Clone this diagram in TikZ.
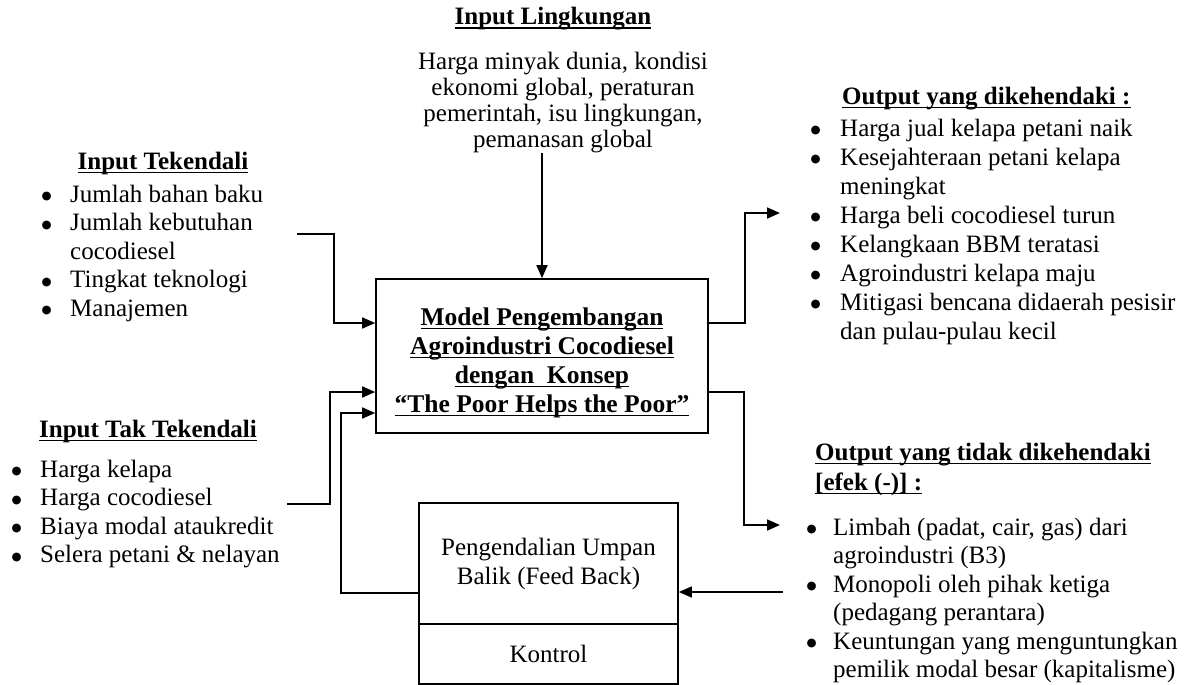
\documentclass[tikz,border=0pt]{standalone}
\usepackage{fontspec}
\setmainfont{Liberation Serif}
\newfontfamily\dejavu{DejaVu Sans}
\usetikzlibrary{arrows.meta}
\newcommand{\uln}[1]{\setbox0\hbox{#1}\rlap{\rule[-4pt]{\wd0}{1.5pt}}\box0}
\newcommand{\bl}[1][29pt]{\makebox[#1][l]{\hspace{0.8pt}\raisebox{2.2pt}{\dejavu\fontsize{11.5}{12}\selectfont ●}}}
\begin{document}
\begin{tikzpicture}[x=1pt,y=-1pt,
  txt/.style={inner sep=0pt, font=\fontsize{25}{28.5}\selectfont},
  hdr/.style={inner sep=0pt, font=\fontsize{25}{30}\selectfont\bfseries},
  blockbox/.style={draw, line width=1.6pt, inner sep=0pt, align=center},
  conn/.style={line width=1.6pt},
  arr/.style={conn, -{Triangle[length=13pt,width=11pt]}}
]
\useasboundingbox (0,0) rectangle (1189,685);

% --- Input Lingkungan
\node[hdr, anchor=base] (lgH) at (553,25) {\uln{Input Lingkungan}};
\node[inner sep=0pt, font=\fontsize{25}{26}\selectfont, anchor=base] (lgT) at (563,70)
  {\begin{tabular}[t]{@{}c@{}}Harga minyak dunia, kondisi\\ekonomi global, peraturan\\pemerintah, isu lingkungan,\\pemanasan global\end{tabular}};

% --- Input Tekendali
\node[hdr, anchor=base] (tkH) at (163,169) {\uln{Input Tekendali}};
\node[txt, anchor=base west] (tkL) at (40.6,202)
  {\begin{tabular}[t]{@{}l@{}}\bl[29.4pt]Jumlah bahan baku\\\bl[29.4pt]Jumlah kebutuhan\\\hspace*{29.4pt}cocodiesel\\\bl[29.4pt]Tingkat teknologi\\\bl[29.4pt]Manajemen\end{tabular}};

% --- Input Tak Tekendali
\node[hdr, anchor=base] (ttH) at (148,437) {\uln{Input Tak Tekendali}};
\node[txt, anchor=base west] (ttL) at (10.6,477)
  {\begin{tabular}[t]{@{}l@{}}\bl[29.4pt]Harga kelapa\\\bl[29.4pt]Harga cocodiesel\\\bl[29.4pt]Biaya modal ataukredit\\\bl[29.4pt]Selera petani \& nelayan\end{tabular}};

% --- Output yang dikehendaki
\node[hdr, anchor=base west] (odH) at (842,104) {\uln{Output yang dikehendaki :}};
\node[inner sep=0pt, font=\fontsize{25}{29}\selectfont, anchor=base west] (odL) at (809.6,136)
  {\begin{tabular}[t]{@{}l@{}}\bl[30.4pt]Harga jual kelapa petani naik\\\bl[30.4pt]Kesejahteraan petani kelapa\\\hspace*{30.4pt}meningkat\\\bl[30.4pt]Harga beli cocodiesel turun\\\bl[30.4pt]Kelangkaan BBM teratasi\\\bl[30.4pt]Agroindustri kelapa maju\\\bl[30.4pt]Mitigasi bencana didaerah pesisir\\\hspace*{30.4pt}dan pulau-pulau kecil\end{tabular}};

% --- Output yang tidak dikehendaki
\node[hdr, anchor=base west] (ouH) at (815,460)
  {\begin{tabular}[t]{@{}l@{}}\uln{Output yang tidak dikehendaki}\\\uln{[efek (-)] :}\end{tabular}};
\node[txt, anchor=base west] (ouL) at (805.6,535)
  {\begin{tabular}[t]{@{}l@{}}\bl[27.4pt]Limbah (padat, cair, gas) dari\\\hspace*{27.4pt}agroindustri (B3)\\\bl[27.4pt]Monopoli oleh pihak ketiga\\\hspace*{27.4pt}(pedagang perantara)\\\bl[27.4pt]Keuntungan yang menguntungkan\\\hspace*{27.4pt}pemilik modal besar (kapitalisme)\end{tabular}};

% --- Central model box
\node[blockbox, minimum width=332pt, minimum height=154pt,
      font=\fontsize{25.5}{29}\selectfont\bfseries] (model) at (542,356)
  {\rule{0pt}{31pt}\uln{Model Pengembangan}\\\uln{Agroindustri Cocodiesel}\\\uln{dengan\ \ Konsep}\\\uln{“The Poor Helps the Poor”}};

% --- Feedback box
\node[blockbox, minimum width=259pt, minimum height=121pt,
      font=\fontsize{25}{29}\selectfont] (fb) at (548.5,563.5)
  {Pengendalian Umpan\\Balik (Feed Back)};
\node[blockbox, minimum width=259pt, minimum height=60pt,
      font=\fontsize{25}{29}\selectfont] (kt) at (548.5,654) {Kontrol};

% --- connector ends
\coordinate (lgS) at (542,153);
\coordinate (tkS) at (297,234);
\coordinate (ttS) at (287,504);
\coordinate (fbIn) at (783,592);
\coordinate (odE) at (780,213);
\coordinate (ouE) at (780,525);

% --- connectors
\draw[arr] (lgS) -- (model.north);
\draw[arr] (tkS) -- (334,234) |- ([yshift=33pt]model.west);
\draw[arr] (ttS) -- (330,504) |- ([yshift=-36pt]model.west);
\draw[arr] ([yshift=-29.5pt]fb.west) -- (341,593) |- ([yshift=-57pt]model.west);
\draw[arr] (fbIn) -- (fb.east |- fbIn);
\draw[arr] ([yshift=33pt]model.east) -- (745,323) |- (odE);
\draw[arr] ([yshift=-36pt]model.east) -- (744,392) |- (ouE);
\end{tikzpicture}
\end{document}
